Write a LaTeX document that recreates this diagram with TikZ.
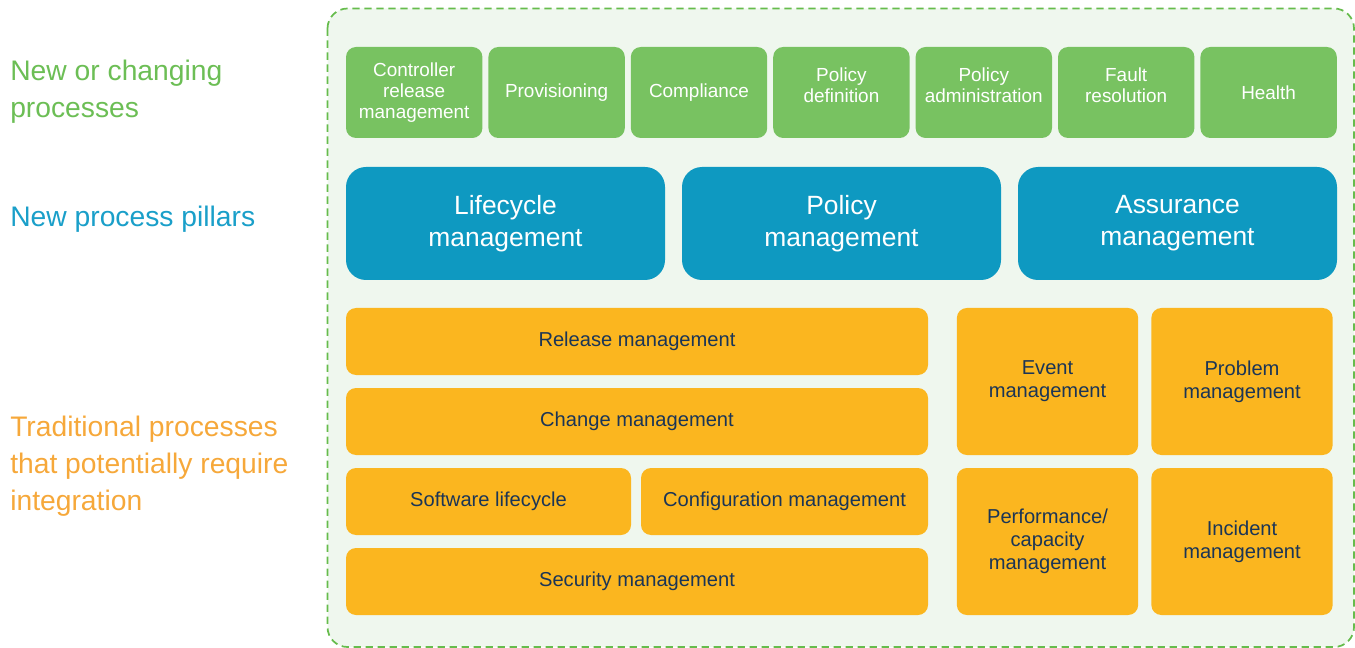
\documentclass[tikz,border=0pt]{standalone}
\usepackage{fontspec}
\setmainfont{Liberation Sans}
\usepackage{tikz}
\usetikzlibrary{positioning}
\usepackage{xcolor}
\definecolor{newgreen}{HTML}{78C261}
\definecolor{labgreen}{HTML}{6CBE55}
\definecolor{pillarblue}{HTML}{0E99C1}
\definecolor{labblue}{HTML}{1A9FC9}
\definecolor{tradorange}{HTML}{FBB61F}
\definecolor{laborange}{HTML}{F6A83A}
\definecolor{navytext}{HTML}{1B3556}
\definecolor{panelbg}{HTML}{EFF7EE}
\definecolor{dashgreen}{HTML}{66BC4C}

\begin{document}
\begin{tikzpicture}[
        x=0.75pt,y=-0.75pt,
        node distance=4.5pt,
        newbox/.style={rectangle,fill=newgreen,rounded corners=7.5pt,text=white,outer sep=0pt,
            minimum width=102.3pt,minimum height=68.25pt,inner sep=1pt,align=center,
            font=\fontsize{14.2}{15.75}\selectfont},
        raised/.style={text depth=11pt},
        pillar/.style={rectangle,fill=pillarblue,rounded corners=15pt,text=white,outer sep=0pt,
            minimum width=239.25pt,minimum height=84.75pt,align=center,
            font=\fontsize{19.8}{24}\selectfont},
        tradbox/.style={rectangle,fill=tradorange,rounded corners=7.5pt,text=navytext,outer sep=0pt,
            minimum height=50.25pt,inner sep=1pt,align=center,
            font=\fontsize{15.1}{17.25}\selectfont},
        tradtall/.style={tradbox,minimum width=136pt,minimum height=110.25pt},
        rowlabel/.style={anchor=west,align=left,inner sep=0pt,
            font=\fontsize{21.2}{27.75}\selectfont}
    ]
        \useasboundingbox (0,0) rectangle (1355,648);

        % outer panel
        \draw[dashgreen,fill=panelbg,line width=1.3pt,dash pattern=on 5.5pt off 3.5pt,
            rounded corners=15pt] (327.5,8.5) rectangle (1354,647);

        % row labels
        \node[rowlabel,text=labgreen] (lblnew) at (10,92) {New or changing\\processes};
        \node[rowlabel,text=labblue] (lblpillar) at (10,219) {New process pillars};
        \node[rowlabel,text=laborange] (lbltrad) at (10,466) {Traditional processes\\that potentially require\\integration};

        % new or changing processes
        \node[newbox] (ctrlrel) at (414.2,92.5) {Controller\\release\\management};
        \node[newbox, right=of ctrlrel] (provis) {Provisioning};
        \node[newbox, right=of provis] (compl) {Compliance};
        \node[newbox, right=of compl, raised] (poldef) {Policy\\definition};
        \node[newbox, right=of poldef, raised] (poladm) {Policy\\administration};
        \node[newbox, right=of poladm, raised] (fault) {Fault\\resolution};
        \node[newbox, right=of fault] (health) {Health};

        % process pillars
        \node[pillar] (lifecycle) at (505.5,223.5) {Lifecycle\\management};
        \node[pillar, right=12.75pt of lifecycle] (policy) {Policy\\management};
        \node[pillar, right=12.75pt of policy] (assurance) {Assurance\\management};

        % traditional processes
        \node[tradbox, minimum width=436.5pt] (release) at (637,341.5) {Release management};
        \node[tradbox, minimum width=436.5pt, below=9.75pt of release] (change) {Change management};
        \node[tradbox, minimum width=213.75pt] (swlife) at (488.5,501.5) {Software lifecycle};
        \node[tradbox, minimum width=215.25pt] (config) at (784.5,501.5) {Configuration management};
        \node[tradbox, minimum width=436.5pt] (security) at (637,581.5) {Security management};

        \node[tradtall] (event) at (1047.5,381.5) {Event\\management};
        \node[tradtall] (problem) at (1242,381.5) {Problem\\management};
        \node[tradtall] (perf) at (1047.5,541.5) {Performance/\\capacity\\management};
        \node[tradtall] (incident) at (1242,541.5) {Incident\\management};
    \end{tikzpicture}
\end{document}
